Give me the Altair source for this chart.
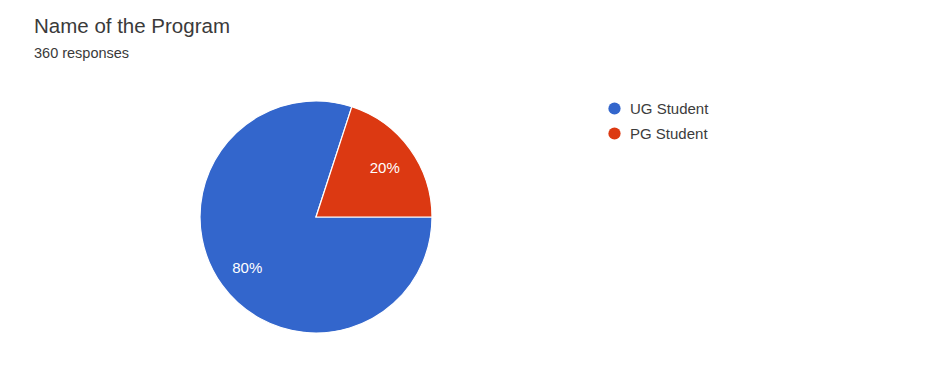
import altair as alt
import pandas as pd
import math

programs = ["UG Student", "PG Student"]
counts = [288, 72]
labels = ["80%", "20%"]
order = [0, 1]
colors = ["#3366cc", "#dc3912"]

df = pd.DataFrame({"program": programs, "count": counts, "label": labels, "ord": order})

theta = alt.Theta("count:Q", stack=True,
                  scale=alt.Scale(range=[math.pi / 2, math.pi / 2 + 2 * math.pi]))
color = alt.Color("program:N", sort=programs,
                  scale=alt.Scale(domain=programs, range=colors),
                  legend=alt.Legend(title=None, orient="none", legendX=607, legendY=31,
                                    symbolType="circle", symbolSize=150,
                                    labelFont="Liberation Sans", labelFontSize=15,
                                    labelColor="#3c3c3c", rowPadding=9,
                                    symbolStrokeWidth=0, labelOffset=8))

base = alt.Chart(df).encode(theta=theta, order=alt.Order("ord:Q"))

pie = base.mark_arc(outerRadius=116, stroke="white", strokeWidth=1.2).encode(
    color=color, x=alt.value(316), y=alt.value(147))

text = base.mark_text(radius=85, color="white", font="Liberation Sans", fontSize=15).encode(
    text="label:N", x=alt.value(316), y=alt.value(148))

chart = (pie + text).properties(
    width=939, height=303,
    padding={"top": 70, "left": 0, "right": 0, "bottom": 0},
    autosize=alt.AutoSizeParams(type="none"),
    background="white",
    title=alt.TitleParams("Name of the Program", subtitle="360 responses",
                          anchor="start", dx=34, offset=10,
                          font="Liberation Sans", fontSize=20.5, fontWeight="normal",
                          color="#3a3a3a",
                          subtitleFont="Liberation Sans", subtitleFontSize=14.5,
                          subtitleColor="#3a3a3a", subtitlePadding=9),
).configure_view(strokeWidth=0, stroke=None)

chart.save("out.html", embed_options={"renderer": "svg", "actions": False})
